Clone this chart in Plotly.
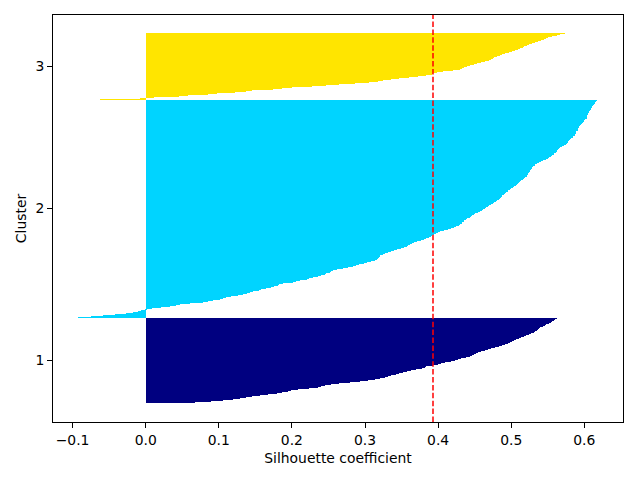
import numpy as np
import plotly.graph_objects as go

# ---- data (sorted silhouette coefficients per cluster) ----
cluster_labels = ["1", "2", "3"]
cluster_colors = ["#000080", "#00d4ff", "#ffe500"]

sil_cluster1 = [
    0.067, 0.090, 0.106, 0.119, 0.129, 0.137, 0.145, 0.156, 0.167, 0.179,
    0.186, 0.195, 0.199, 0.208, 0.224, 0.236, 0.240, 0.245, 0.254, 0.265,
    0.279, 0.293, 0.304, 0.313, 0.320, 0.327, 0.331, 0.336, 0.343, 0.347,
    0.352, 0.357, 0.363, 0.370, 0.378, 0.382, 0.384, 0.393, 0.400, 0.404,
    0.409, 0.418, 0.423, 0.427,
    0.431, 0.438, 0.443, 0.446, 0.449, 0.452, 0.455, 0.459, 0.464, 0.468,
    0.473, 0.478, 0.483, 0.487, 0.491, 0.495, 0.498, 0.501, 0.504, 0.507,
    0.510, 0.513, 0.517, 0.520, 0.524, 0.527, 0.531, 0.533, 0.535, 0.537,
    0.538, 0.540, 0.543, 0.546, 0.548, 0.551, 0.554, 0.556, 0.558, 0.560,
    0.563,
]

sil_cluster2 = [
    -0.092, -0.075, -0.059, -0.042, -0.027, -0.017, -0.011, -0.006, 0.002, 0.008,
    0.021, 0.033, 0.042, 0.047, 0.060, 0.078, 0.085, 0.092, 0.101, 0.106,
    0.110, 0.117, 0.126, 0.133, 0.138, 0.142, 0.147, 0.155, 0.158, 0.165,
    0.172, 0.176, 0.181, 0.183, 0.188, 0.201, 0.206, 0.211, 0.220, 0.224,
    0.229, 0.236, 0.240, 0.245, 0.247, 0.252, 0.254, 0.256, 0.262, 0.270,
    0.277, 0.283, 0.287,
    0.292, 0.298, 0.303, 0.308, 0.313, 0.317, 0.318, 0.319, 0.320, 0.321,
    0.325, 0.328, 0.331, 0.335, 0.339, 0.344, 0.349, 0.354, 0.357, 0.359,
    0.361, 0.364, 0.367, 0.371, 0.376, 0.380, 0.384, 0.387, 0.390, 0.392,
    0.395, 0.397, 0.400, 0.403, 0.408, 0.413, 0.418, 0.422, 0.425, 0.428,
    0.430, 0.432, 0.433, 0.435, 0.436, 0.438, 0.440, 0.443, 0.445, 0.447,
    0.449, 0.451, 0.454, 0.457, 0.460, 0.462, 0.464, 0.466, 0.468, 0.470,
    0.473, 0.475, 0.477, 0.479, 0.481, 0.483, 0.484, 0.486, 0.487, 0.488,
    0.490, 0.491, 0.493, 0.495, 0.496, 0.498, 0.500, 0.502, 0.504, 0.506,
    0.508, 0.509, 0.511, 0.512, 0.514, 0.516, 0.518, 0.519, 0.521, 0.522,
    0.523, 0.523, 0.524, 0.525, 0.526, 0.527, 0.528, 0.529, 0.530, 0.532,
    0.533, 0.535, 0.538, 0.541, 0.544, 0.547, 0.550, 0.552, 0.554, 0.556,
    0.558, 0.559, 0.561, 0.562, 0.563, 0.564, 0.565, 0.567, 0.570, 0.572,
    0.575, 0.576, 0.577, 0.578, 0.579, 0.581, 0.582, 0.584, 0.585, 0.587,
    0.587, 0.588, 0.588, 0.589, 0.591, 0.591, 0.592, 0.593, 0.593, 0.594,
    0.595, 0.597, 0.598, 0.599, 0.600, 0.601, 0.603, 0.603, 0.604, 0.604,
    0.605, 0.605, 0.606, 0.607, 0.608, 0.609, 0.609, 0.610, 0.611, 0.612,
    0.613, 0.614, 0.615, 0.616, 0.618,
]

sil_cluster3 = [
    -0.062, -0.008, 0.012, 0.046, 0.058, 0.085, 0.097, 0.122, 0.137, 0.145,
    0.174, 0.186, 0.200, 0.227, 0.246, 0.264, 0.286, 0.306, 0.318, 0.325,
    0.336, 0.347, 0.360, 0.373, 0.384, 0.391, 0.393, 0.398, 0.407, 0.420,
    0.430,
    0.432, 0.435, 0.440, 0.444, 0.449, 0.453, 0.459, 0.464, 0.469, 0.472,
    0.475, 0.477, 0.480, 0.484, 0.488, 0.492, 0.497, 0.501, 0.505, 0.509,
    0.512, 0.516, 0.518, 0.521, 0.524, 0.529, 0.533, 0.537, 0.541, 0.545,
    0.548, 0.550, 0.556, 0.562, 0.567, 0.573,
]

# average silhouette coefficient (red dashed line)
silhouette_avg = 0.393

x_tick_values = [-0.1, 0.0, 0.1, 0.2, 0.3, 0.4, 0.5, 0.6]
x_tick_labels = ["\u22120.1", "0.0", "0.1", "0.2", "0.3", "0.4", "0.5", "0.6"]

# ---- figure ----
FONT = dict(family="DejaVu Sans", size=13.9, color="black")
clusters = [sil_cluster1, sil_cluster2, sil_cluster3]

fig = go.Figure()
y_lower = 0
y_ticks = []
for vals, color in zip(clusters, cluster_colors):
    n = len(vals)
    ypos = np.arange(y_lower, y_lower + n)
    fig.add_trace(go.Bar(
        x=vals, y=ypos, orientation="h", width=1.0,
        marker=dict(color=color, line=dict(width=0)),
        hoverinfo="skip", showlegend=False,
    ))
    y_ticks.append((y_lower + y_lower + n) / 2.0)
    y_lower += n

fig.add_vline(x=silhouette_avg, line=dict(color="red", dash="5.5px,2.4px", width=1.5))

n_total = y_lower
fig.update_layout(
    width=640, height=480,
    margin=dict(l=53, r=17, t=15, b=58),
    paper_bgcolor="white", plot_bgcolor="white",
    barmode="overlay", bargap=0,
    font=FONT,
    showlegend=False,
)
fig.update_xaxes(
    range=[-0.1268, 0.6529],
    tickvals=x_tick_values, ticktext=x_tick_labels,
    showgrid=False, zeroline=False,
    showline=True, mirror=True, linecolor="black", linewidth=1.1,
    ticks="outside", ticklen=4.9, tickwidth=1.1, tickcolor="black",
    tickfont=FONT,
    title=dict(text="Silhouette coefficient", font=FONT, standoff=6),
)
fig.update_yaxes(
    range=[-19.5, n_total + 17.5],
    tickvals=y_ticks, ticktext=cluster_labels,
    showgrid=False, zeroline=False,
    showline=True, mirror=True, linecolor="black", linewidth=1.1,
    ticks="outside", ticklen=4.9, tickwidth=1.1, tickcolor="black",
    tickfont=FONT,
    title=dict(text="Cluster", font=FONT, standoff=5),
)

fig.write_html("out.html", config={"displayModeBar": False})
